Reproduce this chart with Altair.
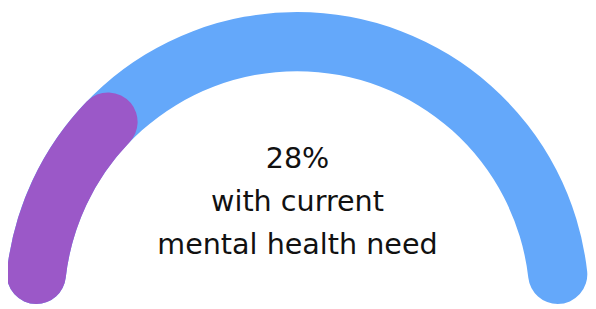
import math
import altair as alt
import pandas as pd

# Data
segments = ["total", "current need"]
starts = [0, 0]
ends = [100, 28]
colors = ["#64A8FA", "#9B58C8"]
label_lines = ["28%", "with current", "mental health need"]

arc_df = pd.DataFrame({"segment": segments, "start": starts, "end": ends, "order": [0, 1]})
text_df = pd.DataFrame({"label": ["\n".join(label_lines)]})

W, H = 588, 301
cx, cy = 293, 298

arcs = alt.Chart(arc_df).mark_arc(
    radius=296, radius2=236, cornerRadius=30
).encode(
    theta=alt.Theta("start:Q", scale=alt.Scale(domain=[0, 100], range=[-math.pi / 2, math.pi / 2]), stack=None),
    theta2="end:Q",
    color=alt.Color("segment:N", scale=alt.Scale(domain=segments, range=colors), legend=None),
    order=alt.Order("order:Q"),
    x=alt.value(cx),
    y=alt.value(cy),
)

text = alt.Chart(text_df).mark_text(
    font="DejaVu Sans", fontSize=29, lineHeight=43.5, lineBreak="\n",
    color="#111111", align="center", baseline="alphabetic",
).encode(
    text="label:N",
    x=alt.value(cx + 0.5),
    y=alt.value(160),
)

chart = alt.layer(arcs, text).properties(
    width=W, height=H, padding=0, autosize=alt.AutoSizeParams(type="none")
).configure_view(stroke=None)

chart.save("out.html", embed_options={"renderer": "svg", "actions": False})
